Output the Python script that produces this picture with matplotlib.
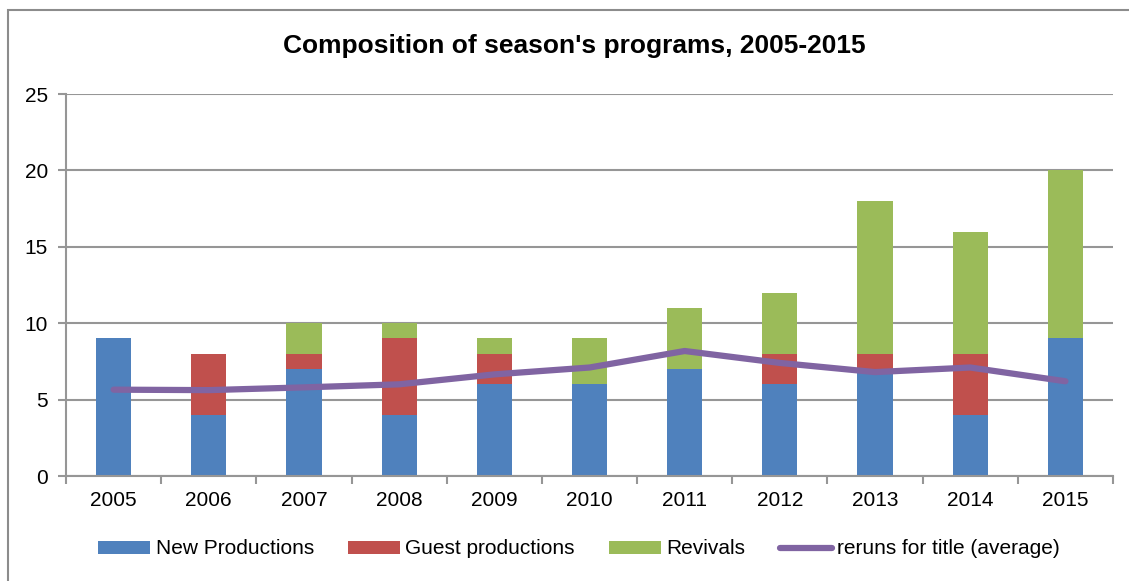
import matplotlib.pyplot as plt
import numpy as np
from matplotlib.patches import Rectangle

# Data
years = ['2005', '2006', '2007', '2008', '2009', '2010', '2011', '2012', '2013', '2014', '2015']
new_productions = [9, 4, 7, 4, 6, 6, 7, 6, 7, 4, 9]
guest_productions = [0, 4, 1, 5, 2, 0, 0, 2, 1, 4, 0]
revivals = [0, 0, 2, 1, 1, 3, 4, 4, 10, 8, 11]
reruns_avg = [5.65, 5.62, 5.8, 6.0, 6.65, 7.1, 8.18, 7.4, 6.8, 7.1, 6.2]

blue = '#4f81bd'
red = '#c0504d'
green = '#9bbb59'
purple = '#8064a2'
grid_col = '#969696'

plt.rcParams['font.family'] = ['Liberation Sans', 'DejaVu Sans']

fig = plt.figure(figsize=(11.29, 5.81), dpi=100)
ax = fig.add_axes([66 / 1129, 1 - 476 / 581, (1113 - 66) / 1129, (476 - 94) / 581])

x = np.arange(len(years))
w = 0.37
new_arr = np.array(new_productions)
guest_arr = np.array(guest_productions)
ax.bar(x, new_productions, w, color=blue, label='New Productions', zorder=2)
ax.bar(x, guest_productions, w, bottom=new_arr, color=red, label='Guest productions', zorder=2)
ax.bar(x, revivals, w, bottom=new_arr + guest_arr, color=green, label='Revivals', zorder=2)
ax.plot(x, reruns_avg, color=purple, linewidth=4.5, solid_capstyle='round',
        label='reruns for title (average)', zorder=3)

ax.set_xlim(-0.5, len(years) - 0.5)
ax.set_ylim(0, 25)
ax.set_yticks([0, 5, 10, 15, 20, 25])
ax.yaxis.grid(True, color=grid_col, linewidth=1.5, zorder=0)
ax.set_axisbelow(True)

# category ticks sit between the bars
ax.set_xticks(np.arange(-0.5, len(years), 1.0))
ax.set_xticklabels([])
ax.set_xticks(x, minor=True)
ax.set_xticklabels(years, minor=True)
ax.tick_params(axis='x', which='minor', length=0, pad=11, labelsize=15)
ax.tick_params(axis='x', which='major', length=6, width=1.5, color=grid_col, direction='out')
ax.tick_params(axis='y', length=6, width=1.5, color=grid_col, pad=7, labelsize=15)

for side in ['top', 'right']:
    ax.spines[side].set_visible(False)
for side in ['left', 'bottom']:
    ax.spines[side].set_color(grid_col)
    ax.spines[side].set_linewidth(1.5)

fig.text(0.509, 1 - 46 / 581, "Composition of season's programs, 2005-2015",
         ha='center', va='center', fontsize=19, fontweight='bold')

handles, labels = ax.get_legend_handles_labels()
order = [1, 2, 3, 0]
leg = fig.legend([handles[i] for i in order], [labels[i] for i in order],
                 loc='center', bbox_to_anchor=(0.513, 1 - 549 / 581), ncol=4,
                 frameon=False, fontsize=15, handlelength=2.5, handleheight=0.6,
                 columnspacing=1.65, handletextpad=0.25)

# chart area border
fig.patches.append(Rectangle((8 / 1129, -0.1), 1.2, 1 - 10 / 581 + 0.1,
                             transform=fig.transFigure, fill=False,
                             edgecolor='#8c8c8c', linewidth=1.5))

fig.savefig('out.png', dpi=100)
